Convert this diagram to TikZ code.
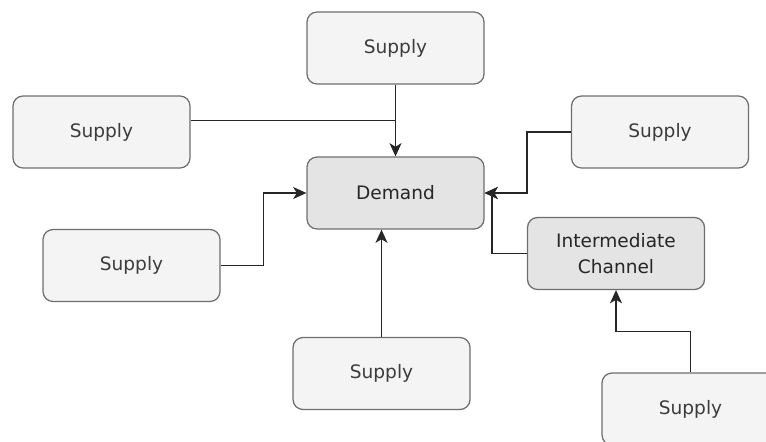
\documentclass[tikz,border=0pt]{standalone}
\usepackage{xcolor}
\usepackage{tikz}
\usetikzlibrary{arrows.meta,calc}
\usepackage{fontspec}
\setmainfont{DejaVu Sans}
\definecolor{SupFill}{HTML}{F4F4F4}
\definecolor{DemFill}{HTML}{E4E4E4}
\definecolor{BoxLine}{HTML}{6E6E6E}
\definecolor{TxtGray}{HTML}{3C3C3C}
\tikzset{
  supbox/.style={draw=BoxLine, line width=0.9pt, rounded corners=0.25cm, fill=SupFill, minimum width=4.425cm, minimum height=1.8cm, text centered, text=TxtGray, font=\fontsize{13.2}{18}\selectfont},
  dembox/.style={supbox, fill=DemFill, text=black!85},
  link/.style={draw=black!85, line width=1pt},
  arr/.style={link, -{Stealth[length=3.3mm,width=3mm,inset=0.9mm]}}
}
\begin{document}
\begin{tikzpicture}%
\useasboundingbox (0,0) rectangle (19.15,-11.025);%
\node[supbox] (sTop) at (9.8875, -1.2) {Supply};%
\node[supbox] (sLeftTop) at (2.5375, -3.3) {Supply};%
\node[dembox] (demand) at (9.8875, -4.825) {Demand};%
\node[supbox] (sRight) at (16.5, -3.3) {Supply};%
\node[dembox, align=center] (inter) at (15.4, -6.3375) {Intermediate\\Channel};%
\node[supbox] (sLeftLow) at (3.2875, -6.6375) {Supply};%
\node[supbox] (sBottom) at (9.5375, -9.3375) {Supply};%
\node[supbox] (sBotRight) at (17.2625, -10.225) {Supply};%
\coordinate (join) at ($(sTop.south)!0.5!(demand.north)$);%
\draw[arr] (sTop.south) -- (demand.north);%
\draw[link] (sLeftTop.east |- join) -- (join);%
\draw[arr] (sLeftLow.east) -- ++(1.075,0) |- (demand.west);%
\draw[arr] (sBottom.north) -- (sBottom.north |- demand.south);%
\draw[arr] (sRight.west) -- ++(-1.1,0) |- (demand.east);%
\draw[arr] (inter.west) -- ++(-0.875,0) |- (demand.east);%
\draw[arr] (sBotRight.north) -- ++(0,1.025) -| (inter.south);%
\end{tikzpicture}
\end{document}
